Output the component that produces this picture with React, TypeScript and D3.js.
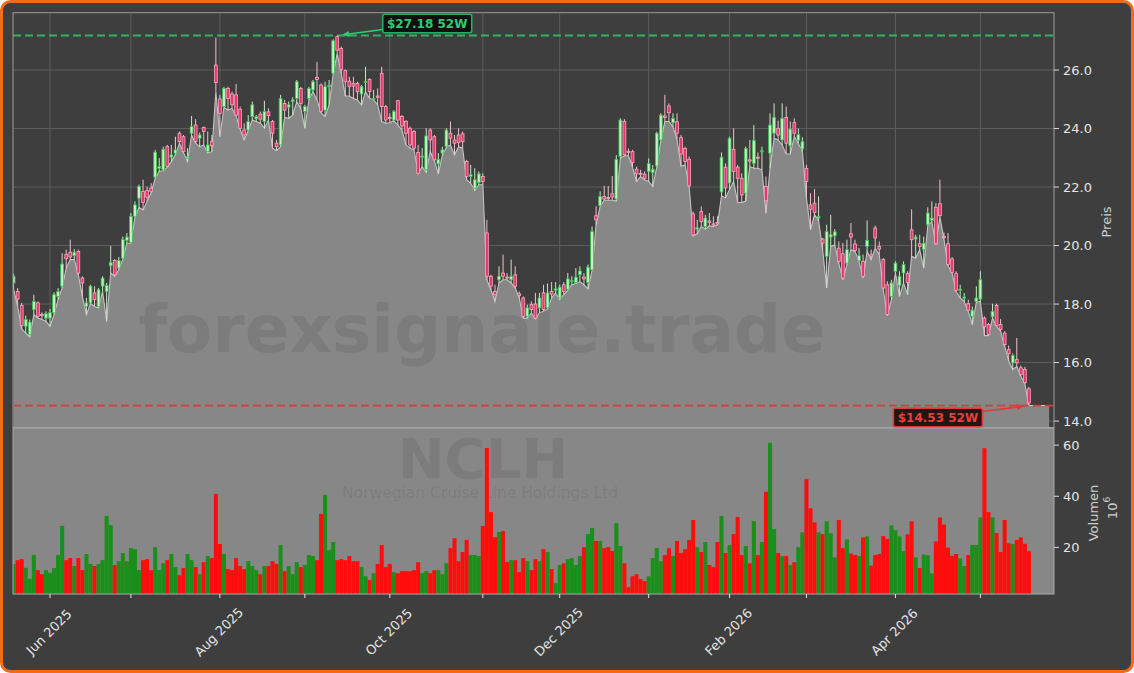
import React from 'react';
import * as d3 from 'd3';

// ---------- data (52 weeks of daily bars, prices in $, volume in millions) ----------
const OPEN = [
  18.72,18.43,17.95,17.24,16.96,17.81,18.04,17.64,17.52,17.52,
  17.70,18.26,18.61,19.69,19.77,19.65,19.80,18.89,17.92,18.04,
  18.38,17.92,18.61,18.43,19.31,19.49,19.23,19.57,20.18,20.11,
  21.00,21.62,21.85,21.88,21.96,22.34,22.64,22.59,23.38,23.02,
  23.16,23.84,23.72,22.99,23.84,24.12,23.67,24.04,23.21,23.55,
  26.17,25.01,24.75,25.37,25.18,25.15,24.66,23.95,23.95,24.41,
  24.33,24.49,24.24,24.57,24.24,23.50,23.44,24.86,24.73,24.92,
  25.03,25.37,24.58,25.03,25.32,25.75,25.49,24.63,25.43,25.89,
  27.14,26.74,25.98,25.62,25.54,25.54,25.18,25.57,25.68,25.00,
  25.11,25.89,24.75,24.38,24.29,24.95,24.41,24.24,24.01,23.90,
  23.18,23.02,22.59,23.95,23.72,22.79,23.16,23.38,23.84,23.61,
  23.78,23.82,22.87,22.36,21.96,22.15,22.36,20.43,18.95,18.43,
  18.83,19.06,18.92,18.83,19.00,18.35,18.21,17.58,17.98,18.00,
  17.87,18.38,17.87,18.43,18.47,18.21,18.66,18.51,18.77,18.74,
  19.00,18.92,18.74,19.17,21.02,21.36,21.68,21.64,21.77,21.59,
  23.04,24.24,23.22,23.21,22.61,22.47,22.44,22.53,22.49,22.72,
  23.61,24.43,24.77,24.20,24.23,23.69,23.32,22.95,21.08,20.56,
  21.16,20.65,20.84,20.74,20.79,21.83,22.68,22.14,23.29,22.68,
  22.30,21.79,22.93,22.81,23.02,23.21,22.02,23.16,23.84,24.01,
  23.61,24.38,23.41,24.20,23.60,23.30,22.64,21.39,21.45,20.94,
  20.22,19.63,20.29,20.33,19.91,19.72,19.40,20.40,20.05,19.48,
  19.46,19.97,19.68,20.60,19.97,19.52,18.66,18.26,19.12,18.63,
  19.06,19.04,20.54,20.22,20.06,19.86,20.71,20.86,21.31,21.43,
  20.31,20.06,19.54,19.04,18.47,18.20,18.01,17.58,18.09,18.17,
  17.52,17.30,17.56,17.95,17.30,17.01,16.44,15.99,16.10,15.82,
  15.76,15.10,
];
const HIGH = [
  19.04,18.55,18.04,17.60,17.47,18.32,18.09,17.72,17.75,17.83,
  18.40,18.55,19.74,19.86,20.20,19.88,19.86,18.95,18.21,18.66,
  18.61,18.55,18.95,18.72,19.99,19.54,19.61,20.31,20.43,21.11,
  21.51,22.08,22.25,22.02,22.13,23.27,22.99,23.38,23.44,23.44,
  23.72,23.90,23.78,23.33,24.43,24.32,23.86,24.07,23.90,23.78,
  27.11,25.15,25.43,25.43,25.26,25.52,24.75,24.18,24.46,24.92,
  24.46,24.58,24.95,24.69,24.29,23.61,25.15,24.98,24.92,25.07,
  25.66,25.43,24.81,25.43,25.66,26.28,25.54,25.60,25.66,27.05,
  27.18,26.80,26.02,25.77,25.77,25.60,25.49,26.11,25.72,25.32,
  25.37,26.11,24.81,24.52,24.63,24.98,24.46,24.29,24.07,23.95,
  23.44,23.33,24.01,24.01,23.78,23.16,23.38,24.01,24.24,23.78,
  24.01,23.90,22.93,22.76,22.64,22.53,22.47,20.88,19.00,18.66,
  19.29,19.69,19.06,19.52,19.29,18.43,18.26,17.98,18.09,18.38,
  18.38,18.66,18.70,18.75,18.75,18.66,18.75,19.06,18.95,19.23,
  19.29,19.06,19.35,20.65,21.34,21.85,22.04,22.04,22.38,23.09,
  24.35,24.32,23.32,23.27,22.70,22.59,22.53,22.98,22.75,23.89,
  24.52,25.15,24.86,24.52,24.52,23.78,23.38,23.04,21.16,20.88,
  21.34,21.05,21.11,21.00,21.00,23.18,22.81,23.72,24.01,22.75,
  22.47,23.38,23.61,24.12,23.18,23.38,22.36,24.52,24.86,24.27,
  24.86,24.75,24.24,24.35,24.00,23.70,22.76,21.79,21.93,21.68,
  20.26,20.71,21.05,20.56,20.14,20.09,20.20,20.77,20.20,19.91,
  19.69,20.86,19.86,20.68,20.14,19.57,18.78,18.83,19.46,19.12,
  19.46,19.12,21.24,20.37,20.37,20.31,21.31,21.51,21.45,22.25,
  20.45,20.43,19.61,19.12,18.66,18.38,18.15,17.92,18.61,19.12,
  17.58,17.35,18.01,18.01,17.49,17.07,16.58,16.31,16.84,15.90,
  15.85,15.17,
];
const LOW = [
  18.49,17.92,17.15,17.01,16.88,17.64,17.52,17.47,17.41,17.24,
  17.64,18.15,18.55,19.23,19.52,19.52,19.00,18.26,17.64,18.02,
  17.92,17.87,18.43,17.41,19.06,18.95,19.17,19.54,20.08,20.08,
  20.97,21.31,21.22,21.51,21.81,22.30,22.53,22.56,22.68,22.87,
  23.10,23.50,23.18,22.87,23.78,23.50,23.38,23.44,23.16,23.21,
  25.26,23.72,24.73,24.63,24.69,24.43,23.97,23.61,23.93,24.29,
  24.24,24.18,24.01,24.29,23.33,23.25,23.38,24.38,24.35,24.46,
  24.92,24.69,24.01,24.98,25.26,24.98,24.54,24.41,24.81,25.86,
  26.57,25.89,25.11,25.11,25.03,24.98,24.81,25.26,25.03,24.98,
  24.81,24.24,24.18,24.20,24.27,24.12,23.95,23.44,23.33,23.27,
  22.45,22.70,22.50,23.21,22.91,22.45,23.10,23.36,23.44,23.10,
  23.38,23.33,22.25,22.13,21.88,22.08,22.08,18.83,18.49,18.09,
  18.72,18.83,18.83,18.72,18.55,18.21,17.52,17.52,17.70,17.49,
  17.70,17.75,17.83,18.21,18.38,18.15,18.32,18.47,18.66,18.70,
  18.77,18.66,18.52,19.15,20.71,21.34,21.55,21.55,21.55,21.52,
  22.98,23.07,23.07,22.68,22.19,22.36,22.25,22.19,22.02,22.68,
  23.59,24.24,24.24,24.06,23.63,22.72,22.75,22.02,20.33,20.40,
  20.65,20.56,20.67,20.65,20.71,21.70,21.63,21.92,22.19,21.47,
  21.47,21.52,22.70,22.64,22.64,22.59,21.11,22.64,23.67,23.61,
  23.44,23.13,23.13,23.72,23.50,23.22,21.62,20.54,21.05,20.86,
  19.86,18.55,19.97,20.03,19.40,18.83,19.35,19.86,19.80,19.46,
  18.89,19.80,19.52,19.91,19.69,18.49,17.60,18.15,19.06,18.26,
  18.72,18.32,19.63,19.57,19.86,19.23,20.68,20.82,20.03,20.97,
  20.22,19.31,19.06,18.44,18.21,18.09,17.75,17.30,18.06,18.09,
  16.92,16.92,17.52,17.24,17.07,16.56,16.05,15.76,15.87,15.53,
  15.28,14.53,
];
const CLOSE = [
  18.95,18.17,17.26,17.47,17.38,18.09,17.58,17.62,17.67,17.70,
  18.32,18.43,19.37,19.55,19.61,19.77,19.06,18.72,18.04,18.61,
  18.15,18.49,18.89,18.64,19.42,19.00,19.49,20.20,20.29,21.00,
  21.39,22.02,21.47,21.65,21.85,23.19,22.70,23.29,22.70,23.10,
  23.27,23.55,23.21,23.04,24.07,23.55,23.78,23.90,23.44,23.41,
  25.57,24.52,25.37,25.03,24.81,24.46,24.01,23.78,24.24,24.81,
  24.41,24.32,24.58,24.44,23.84,23.38,25.03,24.63,24.81,24.98,
  25.60,24.86,24.75,25.37,25.60,25.68,24.58,25.43,25.48,27.00,
  26.68,26.02,25.60,25.43,25.45,25.26,25.43,25.61,25.26,25.03,
  25.07,24.75,24.29,24.34,24.58,24.29,24.09,23.84,23.44,23.33,
  22.47,23.06,23.75,23.61,22.93,22.95,23.27,23.95,23.67,23.50,
  23.52,23.55,22.36,22.42,22.25,22.45,22.19,18.95,18.61,18.32,
  18.95,18.95,18.89,18.95,18.61,18.29,17.58,17.87,17.81,17.52,
  18.21,17.81,18.38,18.34,18.52,18.58,18.43,18.86,18.80,18.92,
  19.13,18.86,19.26,20.48,20.88,21.68,21.59,21.62,21.66,22.95,
  24.29,23.10,23.20,22.84,22.45,22.45,22.30,22.81,22.61,23.84,
  24.46,24.38,24.54,24.35,23.84,23.13,22.87,22.04,20.36,20.61,
  20.82,20.94,20.79,20.70,20.74,23.02,21.97,23.67,22.53,22.30,
  21.73,23.32,22.89,23.59,22.99,23.24,21.53,24.12,24.38,23.78,
  24.35,23.50,23.98,23.84,23.80,23.55,22.19,21.24,21.13,20.99,
  20.08,20.48,20.37,20.47,19.46,18.89,19.86,20.29,19.83,19.65,
  18.95,20.18,19.63,20.26,19.88,18.55,17.64,18.72,19.40,18.95,
  19.35,18.74,20.20,20.29,19.97,20.08,21.11,20.94,20.06,21.02,
  20.27,19.35,19.08,18.47,18.51,18.24,17.79,17.79,18.21,18.83,
  17.22,16.96,17.75,17.26,17.13,16.61,16.31,16.24,15.99,15.59,
  15.31,14.62,
];
const VOLUME = [
  13.5,15.0,15.4,12.0,7.7,17.0,11.1,9.5,11.1,10.1,
  11.9,17.0,28.4,15.0,15.8,12.7,15.8,11.1,17.4,13.5,
  12.7,13.5,15.0,32.3,28.7,13.1,14.6,17.8,14.6,19.7,
  19.3,11.1,15.0,15.4,11.1,20.1,11.1,13.8,15.0,17.4,
  12.3,9.1,11.9,17.4,15.0,12.3,9.5,14.2,16.6,15.8,
  40.9,21.3,17.4,11.5,11.1,15.8,12.7,11.5,14.6,12.7,
  11.1,9.5,12.7,12.7,14.6,13.5,20.9,10.7,12.7,9.5,
  14.2,12.3,13.1,17.0,16.6,15.0,33.1,40.5,18.9,22.1,
  15.0,15.4,15.0,16.6,14.6,14.6,12.3,8.7,7.2,9.9,
  13.5,20.9,12.3,13.5,10.3,9.9,10.7,10.7,10.7,11.1,
  14.2,9.9,10.7,9.9,11.1,11.1,9.5,13.8,19.7,23.6,
  14.6,18.2,22.9,17.0,17.0,16.6,28.4,58.9,33.8,24.0,
  26.0,26.4,14.2,15.0,15.0,10.3,15.8,14.6,11.1,15.4,
  14.6,19.3,18.2,11.5,6.0,13.1,13.8,15.4,15.8,13.1,
  16.6,20.1,25.2,27.6,22.5,22.5,19.7,20.1,18.6,29.5,
  20.5,13.8,4.4,8.7,9.5,7.6,6.8,8.7,15.8,19.7,
  14.6,17.0,19.7,16.6,22.5,17.8,19.3,22.9,30.7,20.1,
  18.2,22.1,13.1,12.3,22.1,32.3,17.8,20.9,25.2,31.9,
  17.0,20.5,13.8,30.3,17.0,22.1,41.7,60.9,27.2,17.8,
  16.6,16.6,13.1,14.2,20.1,25.9,46.7,35.3,29.8,25.9,
  25.2,30.2,25.5,16.1,30.7,19.7,23.1,17.6,17.0,16.6,
  23.9,24.3,12.9,17.0,17.4,24.4,23.3,28.6,26.7,24.3,
  18.6,25.1,30.2,16.1,11.9,17.2,16.9,9.8,22.3,31.7,
  29.0,19.9,16.7,17.4,15.6,12.7,17.0,20.9,20.9,31.7,
  58.8,33.8,31.7,25.6,18.2,30.7,21.6,21.3,22.9,23.9,
  21.4,18.5,
];

// first trading day of each month, as bar index
const MONTH_TICK_INDEX = [9, 29, 51, 72, 93, 116, 135, 157, 177, 196, 218, 239];
const MONTH_TICK_LABEL = ['Jun 2025', '', 'Aug 2025', '', 'Oct 2025', '', 'Dec 2025', '', 'Feb 2026', '', 'Apr 2026', ''];
const PRICE_TICKS = [14, 16, 18, 20, 22, 24, 26];
const VOLUME_TICKS = [20, 40, 60];
const TICKER = 'NCLH';
const COMPANY = 'Norwegian Cruise Line Holdings Ltd';
const WATERMARK = 'forexsignale.trade';

// ---------- layout ----------
const W = 1134, H = 673;
const L = 13, R = 1054;
const PT = 12.7, PB = 427.5;
const VT = 428, VB = 594;
const FILL_PAD = 5; // bars of flat fill after last bar
const FONT = "'DejaVu Sans', Verdana, sans-serif";

function Arrow({ x1, y1, x2, y2, color }: { x1: number; y1: number; x2: number; y2: number; color: string }) {
  const dx = x2 - x1, dy = y2 - y1;
  const len = Math.hypot(dx, dy);
  const ux = dx / len, uy = dy / len;
  const hl = 7, hw = 3;
  const bx = x2 - ux * hl, by = y2 - uy * hl;
  const pts = [
    [x2, y2],
    [bx - uy * hw, by + ux * hw],
    [bx + uy * hw, by - ux * hw],
  ].map(p => p.join(',')).join(' ');
  return (
    <g>
      <line x1={x1} y1={y1} x2={bx} y2={by} stroke={color} strokeWidth={1.6} />
      <polygon points={pts} fill={color} />
    </g>
  );
}

export default function App() {
  const n = CLOSE.length;
  const x = d3.scaleLinear().domain([-0.15, 257.2]).range([L, R]);
  const yP = d3.scaleLinear().domain([13.78, 27.96]).range([PB, PT]);
  const yV = d3.scaleLinear().domain([1.76, 66.7]).range([VB, VT]);
  const step = x(1) - x(0);
  const idx = d3.range(n);
  const fillIdx = [...idx, n - 1 + FILL_PAD];
  const lowAt = (i: number) => LOW[Math.min(i, n - 1)];
  const area = d3.area<number>().x(i => x(i)).y0(PB).y1(i => yP(lowAt(i)))(fillIdx) || '';
  const line = d3.line<number>().x(i => x(i)).y(i => yP(lowAt(i)))(fillIdx) || '';

  const hi = d3.max(HIGH) as number;
  const lo = d3.min(LOW) as number;
  const hiIdx = HIGH.indexOf(hi);
  const loIdx = LOW.indexOf(lo);

  // annotation geometry
  const hp = { x: x(hiIdx), y: yP(hi) };
  const lp = { x: x(loIdx), y: yP(lo) };
  const boxW = 89, boxH = 18.5;
  const gb = { cx: hp.x + 90, cy: hp.y - 12 };
  const rb = { cx: lp.x - 91, cy: lp.y + 12 };
  const gStart = { x: gb.cx - boxW / 2, y: gb.cy + 6 };
  const rStart = { x: rb.cx + boxW / 2, y: rb.cy - 6 };
  const shrink = (p: { x: number; y: number }, s: { x: number; y: number }, d: number) => {
    const dx = s.x - p.x, dy = s.y - p.y, l = Math.hypot(dx, dy);
    return { x: p.x + (dx / l) * d, y: p.y + (dy / l) * d };
  };
  const gTip = shrink(hp, gStart, 5);
  const rTip = shrink(lp, rStart, 5);

  const bw = step * 0.7;
  const UP_FILL = '#c9eec9', UP_STROKE = '#35c24c', UP_WICK = '#c3e8c3';
  const DN_FILL = '#e8366c', DN_STROKE = '#f6a9be', DN_WICK = '#f0bfcc';

  return (
    <svg width={W} height={H} style={{ position: 'absolute', left: 0, top: 0, display: 'block' }} fontFamily={FONT}>
      <defs>
        <clipPath id="pclip"><rect x={L} y={PT} width={R - L} height={PB - PT} /></clipPath>
        <clipPath id="vclip"><rect x={L} y={VT} width={R - L} height={VB - VT} /></clipPath>
      </defs>
      <rect x={0} y={0} width={W} height={H} fill="#ffffff" />
      <rect x={1.5} y={1.5} width={W - 3} height={H - 3} rx={9} fill="#3e3e3e" stroke="#f26a1b" strokeWidth={3} />

      {/* price grid */}
      <g stroke="#5d5d5d" strokeWidth={1}>
        {PRICE_TICKS.map(t => <line key={'hg' + t} x1={L} x2={R} y1={yP(t)} y2={yP(t)} />)}
        {MONTH_TICK_INDEX.map(t => <line key={'vg' + t} x1={x(t)} x2={x(t)} y1={PT} y2={PB} />)}
      </g>

      <g clipPath="url(#pclip)">
        <path d={area} fill="#878787" />
        <path d={line} fill="none" stroke="#c4c4c4" strokeWidth={1.1} />
        <text x={482} y={352} textAnchor="middle" fontSize={66} fontWeight="bold" fill="#303030" fillOpacity={0.12}>{WATERMARK}</text>
        <line x1={L} x2={R} y1={yP(hi)} y2={yP(hi)} stroke="#35b062" strokeWidth={1.8} strokeDasharray="8,4" />
        <line x1={L} x2={R} y1={yP(lo)} y2={yP(lo)} stroke="#dc3b3b" strokeWidth={1.8} strokeDasharray="8,4" />
        {idx.map(i => {
          const up = CLOSE[i] >= OPEN[i];
          const top = yP(Math.max(OPEN[i], CLOSE[i]));
          const bot = yP(Math.min(OPEN[i], CLOSE[i]));
          return (
            <g key={'c' + i}>
              <line x1={x(i)} x2={x(i)} y1={yP(HIGH[i])} y2={yP(LOW[i])} stroke={up ? UP_WICK : DN_WICK} strokeWidth={1} />
              <rect x={x(i) - bw / 2} y={top} width={bw} height={Math.max(1, bot - top)}
                fill={up ? UP_FILL : DN_FILL} stroke={up ? UP_STROKE : DN_STROKE} strokeWidth={0.8} />
            </g>
          );
        })}
      </g>
      <rect x={L} y={PT} width={R - L} height={PB - PT} fill="none" stroke="#9c9c9c" strokeWidth={1} />

      {/* volume panel */}
      <rect x={L} y={VT} width={R - L} height={VB - VT} fill="#878787" />
      <text x={483} y={478} textAnchor="middle" fontSize={56} fontWeight="bold" fill="#303030" fillOpacity={0.12}>{TICKER}</text>
      <text x={480} y={498} textAnchor="middle" fontSize={15.5} fill="#303030" fillOpacity={0.12}>{COMPANY}</text>
      <g clipPath="url(#vclip)">
        {idx.map(i => {
          const up = CLOSE[i] >= OPEN[i];
          return (
            <rect key={'v' + i} x={x(i) - step / 2} y={yV(VOLUME[i])} width={step} height={VB - yV(VOLUME[i])}
              fill={up ? '#1a8f1a' : '#ff0d0d'} />
          );
        })}
      </g>
      <rect x={L} y={VT} width={R - L} height={VB - VT} fill="none" stroke="#a9a9a9" strokeWidth={1} />

      {/* right axes */}
      <g fill="#e4e4e4" fontSize={13}>
        {PRICE_TICKS.map(t => (
          <g key={'pt' + t}>
            <line x1={R} x2={R + 5} y1={yP(t)} y2={yP(t)} stroke="#d8d8d8" />
            <text x={R + 9} y={yP(t)} dominantBaseline="central">{t.toFixed(1)}</text>
          </g>
        ))}
        {VOLUME_TICKS.map(t => (
          <g key={'vt' + t}>
            <line x1={R} x2={R + 5} y1={yV(t)} y2={yV(t)} stroke="#d8d8d8" />
            <text x={R + 9} y={yV(t)} dominantBaseline="central">{t}</text>
          </g>
        ))}
      </g>
      <text transform={`translate(1106,222) rotate(-90)`} textAnchor="middle" dominantBaseline="central" fontSize={13} fill="#cfcfcf">Preis</text>
      <text transform={`translate(1093,513) rotate(-90)`} textAnchor="middle" dominantBaseline="central" fontSize={13} fill="#cfcfcf">Volumen</text>
      <text transform={`translate(1112,508) rotate(-90)`} textAnchor="middle" dominantBaseline="central" fontSize={13} fill="#cfcfcf">
        10<tspan dy={-5} fontSize={9}>6</tspan>
      </text>

      {/* bottom axis */}
      <g>
        {MONTH_TICK_INDEX.map((t, k) => (
          <g key={'xt' + t}>
            <line x1={x(t)} x2={x(t)} y1={VB} y2={VB + 4} stroke="#e0e0e0" />
            {MONTH_TICK_LABEL[k] && (
              <text transform={`translate(${x(t) - 1},632) rotate(-45)`} textAnchor="middle" dominantBaseline="central"
                fontSize={13} fill="#e4e4e4">{MONTH_TICK_LABEL[k]}</text>
            )}
          </g>
        ))}
      </g>

      {/* 52W annotations */}
      <Arrow x1={gStart.x} y1={gStart.y} x2={gTip.x} y2={gTip.y} color="#2ecc71" />
      <rect x={gb.cx - boxW / 2} y={gb.cy - boxH / 2} width={boxW} height={boxH} rx={2}
        fill="#0a0a0a" fillOpacity={0.9} stroke="#27ae60" strokeWidth={1.6} />
      <text x={gb.cx} y={gb.cy} textAnchor="middle" dominantBaseline="central" fontSize={12} fontWeight="bold" fill="#2ecc71">
        {`$${hi.toFixed(2)} 52W`}
      </text>
      <Arrow x1={rStart.x} y1={rStart.y} x2={rTip.x} y2={rTip.y} color="#e03a3a" />
      <rect x={rb.cx - boxW / 2} y={rb.cy - boxH / 2} width={boxW} height={boxH} rx={2}
        fill="#1a0808" fillOpacity={0.9} stroke="#e03a3a" strokeWidth={1.6} />
      <text x={rb.cx} y={rb.cy} textAnchor="middle" dominantBaseline="central" fontSize={12} fontWeight="bold" fill="#e8403a">
        {`$${lo.toFixed(2)} 52W`}
      </text>
    </svg>
  );
}
